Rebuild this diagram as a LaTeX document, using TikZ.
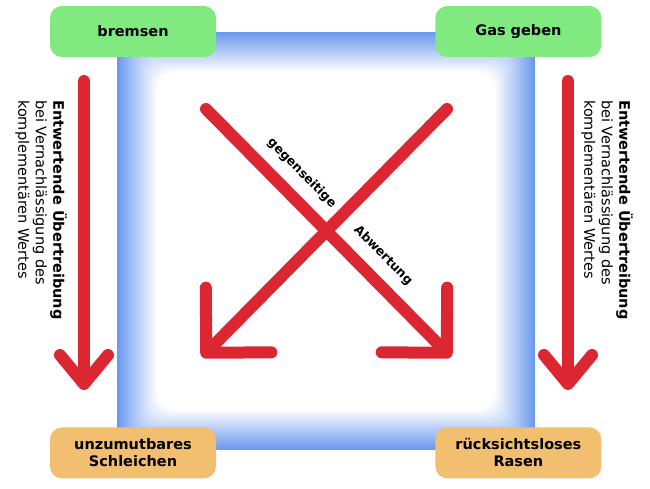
\documentclass[tikz,border=0pt]{standalone}
\usepackage{fontspec}
\setmainfont{DejaVu Sans}
\usepackage{xcolor}
\usetikzlibrary{positioning, arrows.meta}
\definecolor{boxgreen}{RGB}{128,234,128}
\definecolor{boxorange}{RGB}{242,190,112}
\definecolor{glowblue}{RGB}{106,152,238}
\definecolor{arrowred}{RGB}{220,38,50}
\begin{document}
\begin{tikzpicture}[x=1pt, y=1pt, node distance = 370pt and 219pt,
    box/.style={rounded corners=12pt, minimum width=166pt, minimum height=51pt, align=center, inner sep=0pt, font=\fontsize{14.5}{17}\selectfont\bfseries},
    good/.style={box, fill=boxgreen},
    bad/.style={box, fill=boxorange},
    redline/.style={draw=arrowred, line width=12pt, line cap=round, line join=round},
    longtip/.style={-{Straight Barb[round, length=29pt, width=48pt]}},
    crosstip/.style={-{Straight Barb[round, length=46pt, width=92pt]}},
    sidetext/.style={rotate=-90, anchor=north west, align=left, inner sep=0pt, font=\fontsize{14.5}{17.5}\selectfont},
    slopetext/.style={sloped, above=11pt, inner sep=0pt, font=\fontsize{12.5}{14}\selectfont\bfseries}]
        \useasboundingbox (0,0) rectangle (650,488);
        \foreach \i [evaluate=\i as \c using 100-2.5*\i, evaluate=\i as \r using 0.5*\i] in {0,...,40}
          \fill[glowblue!\c!white, rounded corners=\r pt] (117+\i,38+\i) rectangle (535-\i,456-\i);

        \node[good] (1) at (133,456.5) {bremsen};
        \node[good, right=of 1] (2) {Gas geben};
        \node[bad, below=of 1] (3) {unzumutbares\\Schleichen};
        \node[bad, right=of 3] (4) {rücksichtsloses\\Rasen};

        \coordinate (a) at (84,407);
        \coordinate (b) at (84,98);
        \coordinate (c) at (568,407);
        \coordinate (d) at (568,98);
        \coordinate (e) at (206,379);
        \coordinate (f) at (451,131);
        \coordinate (g) at (447,379);
        \coordinate (h) at (202,131);

        \draw[redline, longtip] (a) -- (b);
        \draw[redline, longtip] (c) -- (d);
        \draw[redline, crosstip] (g) -- (h);
        \draw[redline, crosstip] (e) -- node[slopetext, pos=0.324]{gegenseitige} node[slopetext, pos=0.656]{Abwertung} (f);

        \node[sidetext] (5) at (67,388) {\textbf{Entwertende Übertreibung}\\bei Vernachlässigung des\\komplementären Wertes};
        \node[sidetext] (6) at (633,388) {\textbf{Entwertende Übertreibung}\\bei Vernachlässigung des\\komplementären Wertes};
      \end{tikzpicture}
\end{document}
